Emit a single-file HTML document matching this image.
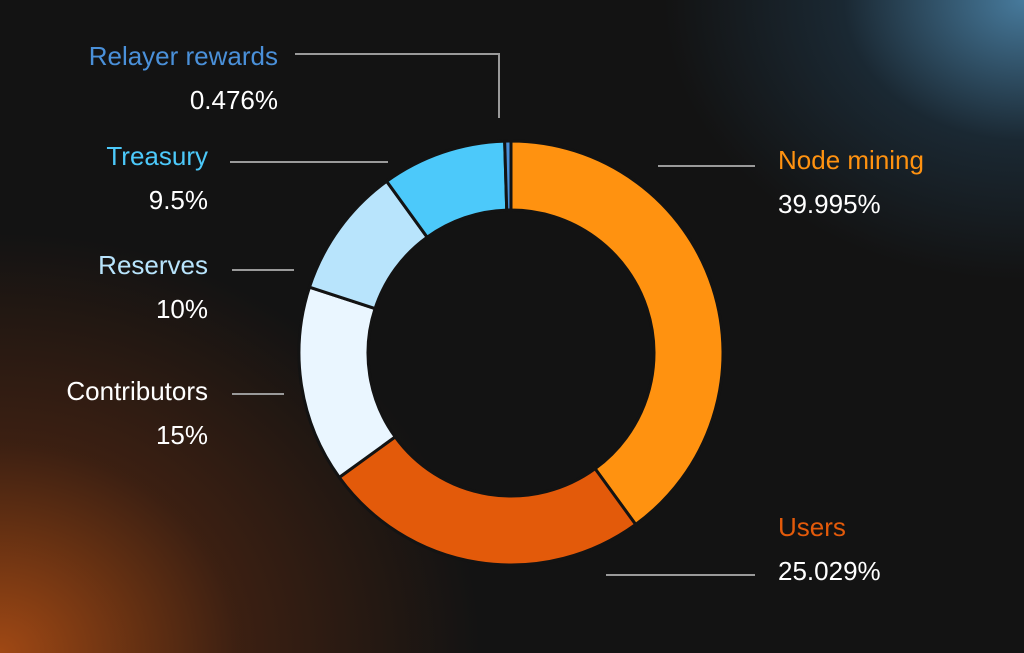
<!DOCTYPE html>
<html><head><meta charset="utf-8"><style>
html,body{margin:0;padding:0}
body{width:1024px;height:653px;overflow:hidden;background:#131313;font-family:"Liberation Sans",sans-serif}
#bg{position:absolute;left:0;top:0;width:1024px;height:653px;
background:radial-gradient(ellipse 480px 420px at 0px 653px,rgba(175,78,20,0.9),rgba(120,50,15,0.4) 50%,rgba(19,19,19,0) 100%),
radial-gradient(ellipse 360px 280px at 1024px 0px,rgba(80,140,180,0.85),rgba(40,80,110,0.35) 50%,rgba(19,19,19,0) 100%),#131313}
svg{position:absolute;left:0;top:0}
</style></head><body>
<div id="bg"></div>
<svg id="chart" width="1024" height="653"></svg>
<script>
const categories=["Node mining","Users","Contributors","Reserves","Treasury","Relayer rewards"];
const values=[39.995,25.029,15,10,9.5,0.476];
const valueLabels=["39.995%","25.029%","15%","10%","9.5%","0.476%"];
const colors=["#FF9210","#E35A0A","#EAF6FF","#B8E4FC","#4CC9FA","#4A90D9"];
const NS="http://www.w3.org/2000/svg";
const svg=document.getElementById('chart');
const cx=511,cy=353,R=212,r=143;
const total=values.reduce((a,b)=>a+b,0);
function pt(a,rad){return [cx+rad*Math.sin(a),cy-rad*Math.cos(a)];}
let acc=0;
const g=document.createElementNS(NS,'g');svg.appendChild(g);
values.forEach((v,i)=>{
 const a0=acc/total*2*Math.PI;acc+=v;const a1=acc/total*2*Math.PI;
 const large=(a1-a0)>Math.PI?1:0;
 const [x0,y0]=pt(a0,R),[x1,y1]=pt(a1,R),[x2,y2]=pt(a1,r),[x3,y3]=pt(a0,r);
 const p=document.createElementNS(NS,'path');
 p.setAttribute('d',`M${x0},${y0}A${R},${R} 0 ${large} 1 ${x1},${y1}L${x2},${y2}A${r},${r} 0 ${large} 0 ${x3},${y3}Z`);
 p.setAttribute('fill',colors[i]);p.setAttribute('stroke','#131313');p.setAttribute('stroke-width','3');
 
 
 g.appendChild(p);
});
const labelPos=[[778,169,'start','M658,166H755'],[778,536,'start','M606,575H755'],[208,400,'end','M232,394H284'],[208,274,'end','M232,270H294'],[208,165,'end','M230,162H388'],[278,65,'end','M295,54H499V118']];
categories.forEach((c,i)=>{
 const [x,y,an,d]=labelPos[i];
 const l=document.createElementNS(NS,'path');l.setAttribute('d',d);l.setAttribute('fill','none');l.setAttribute('stroke','#9a9a9a');l.setAttribute('stroke-width','2');
 
 
 svg.appendChild(l);
 const t=document.createElementNS(NS,'text');t.setAttribute('x',x);t.setAttribute('y',y);t.setAttribute('text-anchor',an);
 t.setAttribute('font-size','26');t.setAttribute('fill',colors[i]==='#EAF6FF'?'#ffffff':colors[i]);t.textContent=c;
 
 
 svg.appendChild(t);
 const t2=document.createElementNS(NS,'text');t2.setAttribute('x',x);t2.setAttribute('y',y+44);t2.setAttribute('text-anchor',an);
 t2.setAttribute('font-size','26');t2.setAttribute('fill','#ffffff');t2.textContent=valueLabels[i];
 
 
 svg.appendChild(t2);
});
</script>
</body></html>
